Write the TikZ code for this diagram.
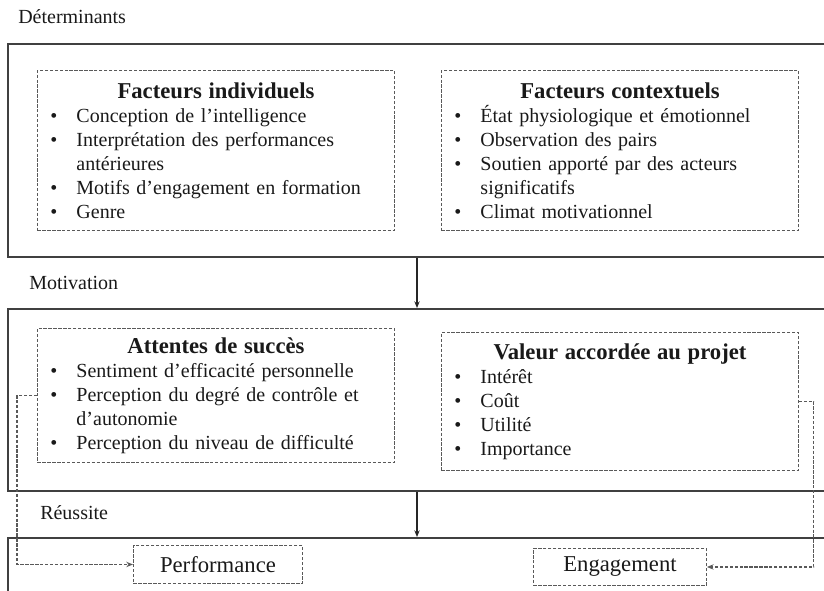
\documentclass[tikz,border=0pt]{standalone}
\usepackage{fontspec}
\setmainfont{Liberation Serif}
\usetikzlibrary{arrows.meta}
\newcommand{\titre}[1]{{\centering\fontsize{17}{20}\selectfont\bfseries #1\par}}
\newcommand{\puce}[1]{\par\hangindent=19.5pt\hangafter=1\noindent\makebox[19.5pt][l]{\textbullet}#1\par}

\begin{document}
\begin{tikzpicture}[x=0.75pt,y=-0.75pt,
	cadre/.style={draw=black!75, line width=1.5pt, anchor=north west, inner sep=0pt},
	pointille/.style={draw=black!65, line width=0.7pt, dash pattern=on 2.5pt off 1.2pt, anchor=north west,
		inner xsep=9.75pt, inner ysep=0pt, text width=248.25pt, align=left, font=\fontsize{15}{18}\selectfont, text=black!90},
	etiquette/.style={anchor=west, inner sep=0pt, font=\fontsize{15}{18}\selectfont, text=black!90},
	resultat/.style={draw=black!65, line width=0.7pt, dash pattern=on 2.5pt off 1.2pt, anchor=north west,
		inner sep=0pt, font=\fontsize{17}{20}\selectfont, text=black!90},
	fleche/.style={draw=black!85, line width=0.8pt, -{Stealth[length=5pt,width=4pt]}},
	lien/.style={draw=black!65, line width=0.8pt, dash pattern=on 2.5pt off 1.2pt, -{Stealth[length=5pt,width=4pt]}}]
	\useasboundingbox (0,0) rectangle (824,590);
	% cadres
	\node[cadre, minimum width=624.75pt, minimum height=159.75pt] (det) at (7,43) {};
	\node[cadre, minimum width=624.75pt, minimum height=136.5pt] (mot) at (7,308) {};
	\node[cadre, minimum width=624.75pt, minimum height=47.25pt] (reu) at (7,537) {};
	\node[etiquette] (l-det) at (18,17) {Déterminants};
	\node[etiquette] (l-mot) at (29,283) {Motivation};
	\node[etiquette] (l-reu) at (40,513) {Réussite};
	% determinants
	\node[pointille, minimum height=120pt] (indiv) at (37,70) {\titre{Facteurs individuels}%
		\puce{Conception de l’intelligence}%
		\puce{Interprétation des performances\newline antérieures}%
		\puce{Motifs d’engagement en formation}%
		\puce{Genre}};
	\node[pointille, minimum height=120pt] (contexte) at (441,70) {\titre{Facteurs contextuels}%
		\puce{État physiologique et émotionnel}%
		\puce{Observation des pairs}%
		\puce{Soutien apporté par des acteurs\newline significatifs}%
		\puce{Climat motivationnel}};
	% motivation
	\node[pointille, minimum height=100.5pt] (att) at (37,328) {\titre{Attentes de succès}%
		\puce{Sentiment d’efficacité personnelle}%
		\puce{Perception du degré de contrôle et\newline d’autonomie}%
		\puce{Perception du niveau de difficulté}};
	\node[pointille, minimum height=103.5pt] (val) at (441,332) {\titre{Valeur accordée au projet}%
		\puce{Intérêt}%
		\puce{Coût}%
		\puce{Utilité}%
		\puce{Importance}};
	% reussite
	\node[resultat, minimum width=126.75pt, minimum height=28.5pt] (perf) at (133,545) {Performance};
	\node[resultat, minimum width=129.75pt, minimum height=27.75pt] (eng) at (533,548) {Engagement};
	% liens
	\coordinate (xa) at (417,0);
	\draw[fleche] (xa |- det.south) -- (xa |- mot.north);
	\draw[fleche] (xa |- mot.south) -- (xa |- reu.north);
	\draw[lien] (att.west) -- ++(-20,0) |- (perf.west);
	\draw[lien] (val.east) -- ++(15,0) |- (eng.east);
\end{tikzpicture}
\end{document}
